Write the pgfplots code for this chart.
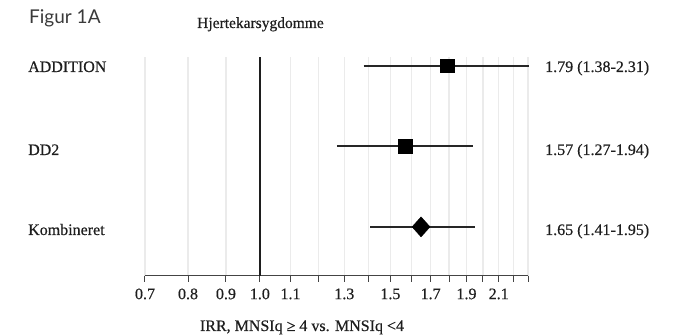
\documentclass[border=0pt]{standalone}
\usepackage{pgfplots}
\pgfplotsset{compat=1.18}
\usepackage{fontspec}
\setmainfont[FakeBold=0.5]{Liberation Serif}
\newfontfamily\figfont{Lato}
\definecolor{txt}{HTML}{1E1E1E}
\definecolor{figc}{HTML}{3A3A3A}
\definecolor{gridc}{HTML}{EBEBEB}
\definecolor{axc}{HTML}{444444}
\begin{document}
\begin{tikzpicture}[x=1pt,y=1pt]
\useasboundingbox (0,0) rectangle (680,336);
\begin{axis}[
  at={(145pt,60pt)}, anchor=south west,
  scale only axis, width=383pt, height=219pt,
  xmode=log, xmin=0.7, xmax=2.3, ymin=0.39, ymax=3.11,
  axis x line*=bottom, axis y line=none,
  xtick={0.7,0.8,0.9,1.0,1.1,1.2,1.3,1.4,1.5,1.6,1.7,1.8,1.9,2.0,2.1,2.2,2.3},
  xticklabels={0.7,0.8,0.9,1.0,1.1,,1.3,,1.5,,1.7,,1.9,,2.1,,},
  minor xtick={},
  tick align=outside, major tick length=6pt,
  tick style={axc, line width=1pt},
  xmajorgrids, grid style={gridc, line width=1.2pt},
  x axis line style={axc, line width=1pt},
  ytick=\empty,
  clip=false,
  xticklabel style={font=\fontsize{16}{19}\selectfont, text=txt, yshift=-3pt},
]
\addplot[txt, line width=1.3pt] coordinates {(1,0.39) (1,3.11)};
\addplot[black!85, line width=1.8pt] coordinates {(1.38,3) (2.31,3)};
\addplot[black!85, line width=1.8pt] coordinates {(1.27,2) (1.94,2)};
\addplot[black!85, line width=1.8pt] coordinates {(1.41,1) (1.95,1)};
\addplot[only marks, mark=square*, mark size=6.7pt, black] coordinates {(1.79,3) (1.57,2)};
\addplot[only marks, mark=diamond*, mark size=10pt, mark options={xscale=1.2}, black] coordinates {(1.65,1)};
\end{axis}
\begin{scope}[every node/.style={inner sep=0pt, text=txt, font=\fontsize{16}{19}\selectfont}]
\node[anchor=base west, font=\figfont\fontsize{19}{22}\selectfont, text=figc] at (29,312) {Figur 1A};
\node[anchor=base west, font=\fontsize{15.5}{18}\selectfont] at (197,308) {Hjertekarsygdomme};
\node[anchor=base west] at (28,264) {ADDITION};
\node[anchor=base west] at (28,181) {DD2};
\node[anchor=base west] at (28,101) {Kombineret};
\node[anchor=base west] at (545,264) {1.79 (1.38-2.31)};
\node[anchor=base west] at (545,181) {1.57 (1.27-1.94)};
\node[anchor=base west] at (545,101) {1.65 (1.41-1.95)};
\node[anchor=base] at (302,5) {IRR, MNSIq ≥ 4 vs. MNSIq <4};
\end{scope}
\end{tikzpicture}
\end{document}
